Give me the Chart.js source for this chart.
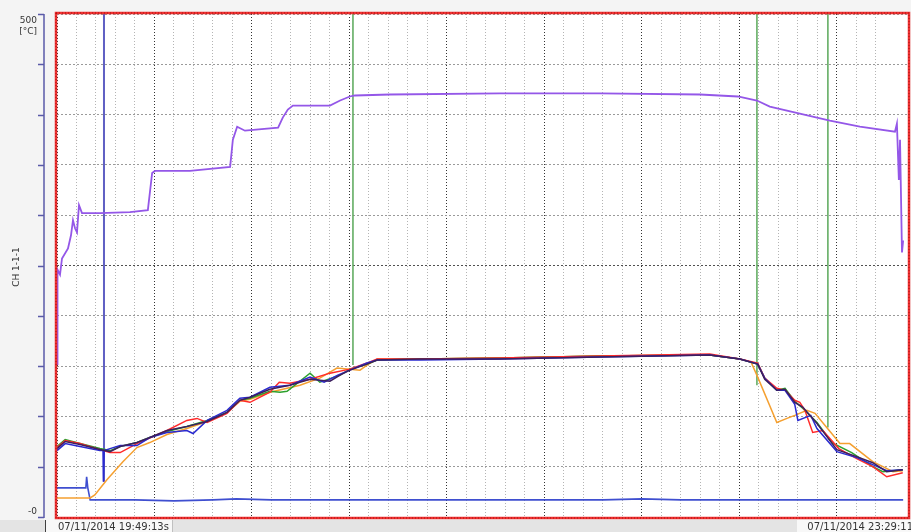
<!DOCTYPE html>
<html>
<head>
<meta charset="utf-8">
<script src="https://cdn.jsdelivr.net/npm/chart.js@4.4.1/dist/chart.umd.min.js"></script>
<style>
html, body { margin: 0; padding: 0; background: #f3f3f3; }
#wrap { width: 911px; height: 532px; position: relative; }
</style>
</head>
<body>
<div id="wrap"><canvas id="myChart"></canvas></div>
<script>
// x = minutes since 07/11/2014 19:49:13, y = temperature in °C
let startLabel = '07/11/2014 19:49:13s';
let endLabel = '07/11/2014 23:29:11';
let axisTitle = 'CH 1-1-1';
let yTopLabel = ['500', '[°C]'];
let yBottomLabel = '-0';

let purpleT = [0, 0.13, 0.77, 1.28, 2.82, 3.59, 4.10, 4.62, 5.13, 5.64, 6.41, 11.0, 18.7, 23.3, 24.4, 25.1, 34.1, 44.4, 45.1, 46.2, 48.2, 56.7, 57.9, 59.2, 60.5, 70.0, 72.6, 75.1, 76.4, 85.4, 113.6, 139.2, 164.9, 174.6, 179.5, 182.8, 190.5, 198.2, 205.9, 214.9, 215.4, 215.9, 216.2, 216.7, 217.0];
let purpleV = [152, 246, 241, 257, 267, 280, 295, 287, 283, 310, 302, 302, 303, 305, 342, 344, 344, 348, 375, 388, 384, 387, 397, 405, 409, 409, 414, 418, 419, 420, 421, 421, 420, 418, 414, 408, 401, 394, 388, 383, 391, 335, 375, 263, 275];

let navyT = [0, 2.1, 5.9, 11.0, 11.8, 11.9, 12.1, 13.6, 16.2, 20.5, 23.8, 28.2, 33.3, 34.9, 38.5, 43.6, 46.9, 49.5, 54.6, 59.7, 64.9, 68.5, 72.0, 75.1, 79.5, 82.1, 93.1, 113.6, 139.2, 167.4, 175.1, 179.7, 181.5, 184.6, 186.7, 189.2, 190.0, 193.3, 194.9, 200.0, 205.1, 209.2, 212.8, 216.9];
let navyV = [66, 73, 70, 66, 66, 35, 66, 68, 71, 71, 79, 84, 86, 83, 96, 106, 118, 119, 129, 131, 139, 134, 141, 146, 153, 156, 156, 157, 159, 161, 157, 152, 138, 126, 126, 112, 96, 101, 88, 65, 59, 52, 46, 47];

let darkT = [0, 2.1, 5.9, 11.0, 13.6, 16.2, 20.5, 23.8, 28.2, 33.3, 38.5, 43.6, 46.9, 49.5, 54.6, 59.7, 64.9, 70.0, 72.6, 75.1, 79.5, 82.1, 93.1, 113.6, 139.2, 167.4, 175.1, 179.7, 181.5, 184.6, 186.7, 189.2, 191.3, 194.9, 200.0, 205.1, 209.2, 212.8, 216.9];
let darkV = [68, 75, 72, 67, 65, 70, 74, 79, 86, 90, 95, 104, 116, 119, 127, 131, 137, 135, 141, 146, 152, 156, 157, 157, 159, 161, 157, 152, 137, 126, 127, 114, 109, 93, 67, 60, 54, 45, 47];

let redT = [0, 2.1, 5.9, 11.0, 13.6, 16.2, 20.5, 28.2, 33.3, 35.9, 38.5, 43.6, 46.9, 49.5, 54.6, 57.0, 59.7, 64.9, 70.0, 75.1, 79.5, 82.1, 93.1, 113.6, 139.2, 167.4, 175.1, 179.7, 181.5, 184.6, 186.7, 189.2, 190.5, 191.8, 193.8, 196.4, 200.5, 205.1, 209.2, 212.8, 216.9];
let redV = [69, 76, 73, 67, 64, 64, 73, 86, 96, 98, 94, 103, 116, 114, 124, 134, 133, 137, 143, 147, 153, 157, 157, 158, 160, 162, 157, 153, 138, 128, 126, 116, 114, 106, 84, 86, 68, 58, 50, 40, 44];

let greenT = [0, 2.1, 5.9, 11.0, 13.6, 16.2, 20.5, 23.8, 28.2, 33.3, 38.5, 43.6, 46.9, 49.5, 54.6, 57.2, 59.0, 64.9, 67.4, 72.6, 75.1, 79.5, 82.1, 93.1, 113.6, 139.2, 167.4, 175.1, 179.7, 181.5, 184.6, 186.7, 189.2, 191.3, 194.9, 198.7, 203.8, 209.2, 211.8, 216.9];
let greenV = [70, 77, 73, 68, 66, 70, 74, 79, 85, 90, 96, 104, 116, 118, 125, 124, 125, 143, 134, 141, 147, 152, 156, 157, 158, 160, 161, 157, 152, 138, 126, 128, 115, 108, 94, 74, 64, 50, 45, 47];

let orangeT = [0, 8.5, 9.7, 12.8, 16.9, 20.5, 23.8, 28.2, 33.3, 38.5, 43.6, 46.9, 49.5, 54.6, 62.3, 67.4, 71.8, 77.7, 79.5, 82.1, 93.1, 113.6, 139.2, 167.4, 175.1, 178.0, 179.7, 184.6, 187.2, 189.2, 192.3, 194.4, 197.4, 200.8, 203.3, 209.2, 211.8, 214.4, 216.9];
let orangeV = [19, 19, 22, 37, 55, 69, 74, 82, 88, 95, 104, 115, 117, 124, 131, 138, 148, 146, 151, 157, 157, 158, 160, 161, 157, 154, 139, 94, 98, 101, 106, 103, 89, 73, 73, 55, 50, 45, 46];

let baseT = [0, 7.4, 7.6, 7.9, 8.5, 20, 30, 40, 46, 55, 70, 100, 140, 150, 160, 170, 217];
let baseV = [29, 29, 40, 29, 17, 17, 16, 17, 18, 17, 17, 17, 17, 18, 17, 17, 17];

// cursor markers: time, lower end (upper end is the top of the scale)
let cursorT = [12.05, 75.9, 179.5, 197.7];
let cursorLow = [35, 151, 131, 89];

function pts(t, v) {
    return t.map((x, i) => ({ x: x, y: v[i] }));
}

let datasets = [
    { data: pts(purpleT, purpleV), borderColor: '#9457e8', borderWidth: 1.8 },
    { data: pts(darkT, darkV), borderColor: '#3c1f5e', borderWidth: 1.5 },
    { data: pts(navyT, navyV), borderColor: '#2a2ad0', borderWidth: 1.5 },
    { data: pts(redT, redV), borderColor: '#ff2a2a', borderWidth: 1.5 },
    { data: pts(greenT, greenV), borderColor: '#2ca02c', borderWidth: 1.5 },
    { data: pts(orangeT, orangeV), borderColor: '#f5a030', borderWidth: 1.5 },
    { data: pts(baseT, baseV), borderColor: '#3f4fd0', borderWidth: 1.6 }
];
let cursorColors = ['#6060c4', '#5aa85a', '#5aa85a', '#5aa85a'];
for (let i = 0; i < cursorT.length; i++) {
    datasets.push({
        data: [{ x: cursorT[i], y: 500 }, { x: cursorT[i], y: cursorLow[i] }],
        borderColor: cursorColors[i],
        borderWidth: i == 0 ? 2 : 1.5
    });
}

let framePlugin = {
    id: 'frame',
    beforeDraw: function (chart) {
        let ctx = chart.ctx;
        let a = chart.chartArea;
        ctx.save();
        ctx.fillStyle = '#f4f4f4';
        ctx.fillRect(0, 0, chart.width, chart.height);
        ctx.fillStyle = '#ffffff';
        ctx.fillRect(a.left, a.top, a.right - a.left, a.bottom - a.top);
        ctx.restore();
    },
    afterDraw: function (chart) {
        let ctx = chart.ctx;
        let a = chart.chartArea;
        let y = chart.scales.y;
        ctx.save();

        // red frame round the plot
        ctx.strokeStyle = '#ee3030';
        ctx.lineWidth = 2.5;
        ctx.strokeRect(a.left - 1, a.top - 1, a.right - a.left + 1, a.bottom - a.top + 2);
        ctx.strokeStyle = '#a01010';
        ctx.lineWidth = 1;
        ctx.setLineDash([1, 2]);
        ctx.strokeRect(a.left - 1, a.top - 1, a.right - a.left + 1, a.bottom - a.top + 2);
        ctx.setLineDash([]);

        // left value axis
        ctx.strokeStyle = '#5a5aa8';
        ctx.lineWidth = 1.5;
        ctx.beginPath();
        ctx.moveTo(44, y.getPixelForValue(500));
        ctx.lineTo(44, y.getPixelForValue(0) + 1);
        for (let v = 0; v <= 500; v += 50) {
            let py = Math.round(y.getPixelForValue(v)) + 0.5;
            ctx.moveTo(38, py);
            ctx.lineTo(44, py);
        }
        ctx.stroke();

        ctx.fillStyle = '#333333';
        ctx.font = '9px "DejaVu Sans"';
        ctx.textAlign = 'right';
        ctx.textBaseline = 'middle';
        ctx.fillText(yTopLabel[0], 37, 21);
        ctx.fillText(yTopLabel[1], 37, 32);
        ctx.fillText(yBottomLabel, 37, 512);

        ctx.save();
        ctx.translate(17, 267);
        ctx.rotate(-Math.PI / 2);
        ctx.textAlign = 'center';
        ctx.fillText(axisTitle, 0, 0);
        ctx.restore();

        // bottom status strip
        ctx.fillStyle = '#e4e4e4';
        ctx.fillRect(0, 520, chart.width, chart.height - 520);
        ctx.fillStyle = '#f8f8f8';
        ctx.fillRect(46, 520, 126, chart.height - 520);
        ctx.fillRect(797, 520, chart.width - 797, chart.height - 520);
        ctx.strokeStyle = '#404040';
        ctx.lineWidth = 1;
        ctx.beginPath();
        ctx.moveTo(45.5, 520);
        ctx.lineTo(45.5, chart.height);
        ctx.stroke();
        ctx.strokeStyle = '#c0c0c0';
        ctx.beginPath();
        ctx.moveTo(172.5, 520);
        ctx.lineTo(172.5, chart.height);
        ctx.stroke();

        ctx.fillStyle = '#333333';
        ctx.font = '10px "DejaVu Sans"';
        ctx.textAlign = 'left';
        ctx.fillText(startLabel, 58, 527);
        ctx.textAlign = 'right';
        ctx.fillText(endLabel, 913, 527);
        ctx.restore();
    }
};

let ctx = document.getElementById('myChart').getContext('2d');
let myChart = new Chart(ctx, {
    type: 'line',
    data: { datasets: datasets },
    options: {
        responsive: true,
        maintainAspectRatio: false,
        animation: false,
        layout: { padding: { left: 57, top: 14, right: 2, bottom: 15 } },
        elements: {
            point: { radius: 0 },
            line: { tension: 0, fill: false }
        },
        plugins: {
            legend: { display: false },
            tooltip: { enabled: false }
        },
        scales: {
            x: {
                type: 'linear',
                min: 0,
                max: 218.5,
                ticks: { display: false, stepSize: 5 },
                border: { display: false, dash: [1, 2] },
                grid: {
                    drawTicks: false,
                    lineWidth: 1,
                    color: function (c) {
                        return c.tick && c.tick.value % 25 === 0 ? '#333333' : '#b4b4b4';
                    }
                },
                afterFit: function (scale) { scale.height = 0; }
            },
            y: {
                min: 0,
                max: 500,
                ticks: { display: false, stepSize: 50 },
                border: { display: false, dash: [2, 2] },
                grid: {
                    drawTicks: false,
                    lineWidth: 1,
                    color: function (c) {
                        return c.tick && c.tick.value === 250 ? '#505050' : '#9a9a9a';
                    }
                },
                afterFit: function (scale) { scale.width = 0; }
            }
        }
    },
    plugins: [framePlugin]
});
</script>
</body>
</html>
